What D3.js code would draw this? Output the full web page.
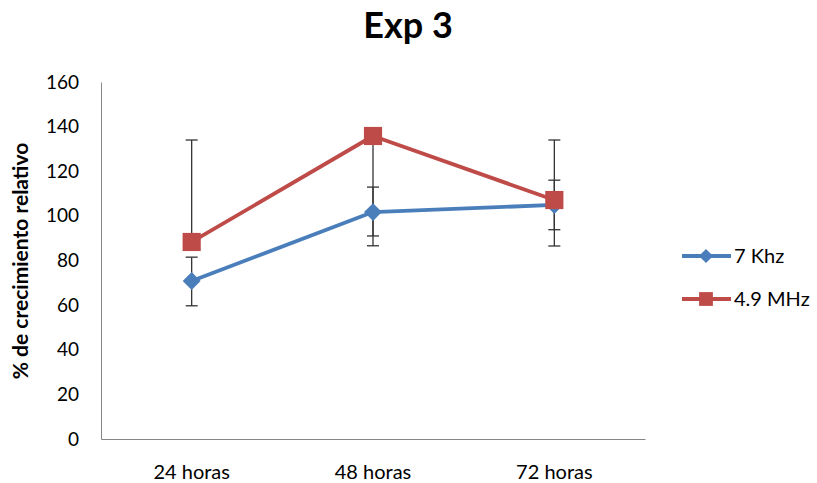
<!DOCTYPE html>
<html>
<head>
<meta charset="utf-8">
<script src="https://cdn.jsdelivr.net/npm/d3@7"></script>
<style>
  html, body { margin: 0; padding: 0; background: #fff; }
  svg { display: block; font-family: Lato, "Open Sans", sans-serif; }
</style>
</head>
<body>
<script>
const title = "Exp 3";
const yTitle = "% de crecimiento relativo";
const categories = ["24 horas", "48 horas", "72 horas"];
const yTicks = [0, 20, 40, 60, 80, 100, 120, 140, 160];

const seriesNames = ["7 Khz", "4.9 MHz"];
const khzValues = [70.8, 101.7, 104.9];
const khzUpper = [81.5, 112.9, 116.0];
const khzLower = [59.7, 91.0, 93.8];
const mhzValues = [88.3, 135.8, 107.1];
const mhzUpper = [134.0, null, 134.0];
const mhzLower = [null, 86.6, 86.5];

const colors = ["#4A7EBB", "#BE4B48"];

const W = 817, H = 483;
const svg = d3.select("body").append("svg").attr("width", W).attr("height", H);

const x = d3.scaleBand().domain(categories).range([101, 645]);
const y = d3.scaleLinear().domain([0, 160]).range([439, 82]);
const cx = c => x(c) + x.bandwidth() / 2;

// title
svg.append("text").attr("x", 408).attr("y", 38).attr("text-anchor", "middle")
  .attr("font-size", 36).attr("font-weight", "bold").attr("fill", "#000").text(title);

// y axis
const yAxis = d3.axisLeft(y).tickValues(yTicks).tickSize(0).tickPadding(22);
const ga = svg.append("g").attr("transform", "translate(101,0)").call(yAxis);
ga.select(".domain").attr("stroke", "#868686").attr("stroke-width", 1);
ga.selectAll("text").attr("font-size", 19).attr("fill", "#000").attr("font-family", "Lato, sans-serif");

// x axis
const xAxis = d3.axisBottom(x).tickSize(0).tickPadding(26);
const gx = svg.append("g").attr("transform", "translate(0,439)").call(xAxis);
gx.select(".domain").attr("stroke", "#868686").attr("stroke-width", 1);
gx.selectAll("text").attr("font-size", 20).attr("fill", "#000").attr("font-family", "Lato, sans-serif");

// y title
svg.append("text").attr("transform", "translate(28,261) rotate(-90)")
  .attr("text-anchor", "middle").attr("font-size", 21).attr("font-weight", "bold")
  .attr("fill", "#000").text(yTitle);

const series = [
  { name: seriesNames[0], vals: khzValues, up: khzUpper, lo: khzLower, color: colors[0], shape: d3.symbolSquare, size: 160, rot: 45, legSize: 100 },
  { name: seriesNames[1], vals: mhzValues, up: mhzUpper, lo: mhzLower, color: colors[1], shape: d3.symbolSquare, size: 330, rot: 0, legSize: 190 }
];

// error bars
const eg = svg.append("g").attr("stroke", "#333").attr("stroke-width", 1.3);
series.forEach(s => {
  categories.forEach((c, i) => {
    [s.up[i], s.lo[i]].forEach(v => {
      if (v == null) return;
      eg.append("line").attr("x1", cx(c)).attr("x2", cx(c)).attr("y1", y(s.vals[i])).attr("y2", y(v));
      eg.append("line").attr("x1", cx(c) - 6).attr("x2", cx(c) + 6).attr("y1", y(v)).attr("y2", y(v));
    });
  });
});

// lines and markers
const line = d3.line().x((d, i) => cx(categories[i])).y(d => y(d));
series.forEach(s => {
  svg.append("path").datum(s.vals).attr("d", line).attr("fill", "none")
    .attr("stroke", s.color).attr("stroke-width", 3.8).attr("stroke-linejoin", "round");
  s.vals.forEach((v, i) => {
    svg.append("path").attr("d", d3.symbol().type(s.shape).size(s.size)())
      .attr("transform", `translate(${cx(categories[i])},${y(v)}) rotate(${s.rot})`).attr("fill", s.color);
  });
});

// legend
const legY = [256, 299];
series.forEach((s, k) => {
  const g = svg.append("g").attr("transform", `translate(0,${legY[k]})`);
  g.append("line").attr("x1", 682).attr("x2", 731).attr("y1", 0).attr("y2", 0)
    .attr("stroke", s.color).attr("stroke-width", 3.8);
  g.append("path").attr("d", d3.symbol().type(s.shape).size(s.legSize)())
    .attr("transform", `translate(706,0) rotate(${s.rot})`).attr("fill", s.color);
  g.append("text").attr("x", 734).attr("y", 7).attr("font-size", 20).attr("fill", "#000").text(s.name);
});
</script>
</body>
</html>
